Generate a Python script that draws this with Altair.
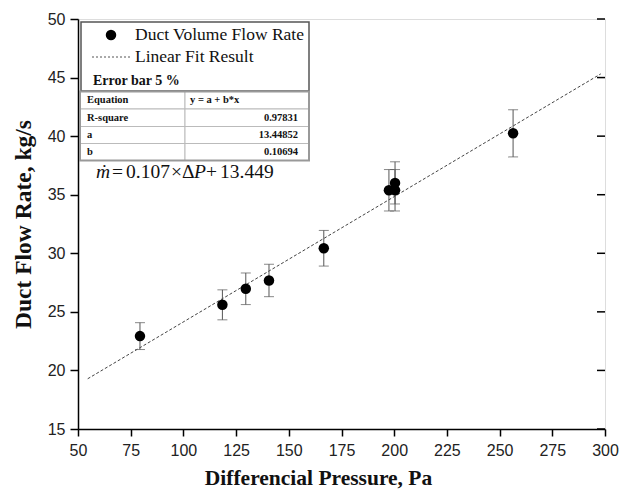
import altair as alt
import pandas as pd

# ---- data ----
pressure = [79.4, 118.5, 129.6, 140.6, 166.6, 197.5, 200.4, 200.4, 256.4]
flow = [22.93, 25.60, 26.97, 27.68, 30.43, 35.38, 36.01, 35.38, 40.24]
err_frac = 0.05  # "Error bar 5 %"

fit_a = 13.44852
fit_b = 0.10694
fit_x = [54.6, 298.0]

y_ticks = [15, 20, 25, 30, 35, 40, 45, 50]
x_ticks = [50, 75, 100, 125, 150, 175, 200, 225, 250, 275, 300]

legend_labels = ["Duct Volume Flow Rate", "Linear Fit Result"]
errbar_label = "Error bar 5 %"
table_left = ["Equation", "R-square", "a", "b"]
table_right = ["y = a + b*x", "0.97831", "13.44852", "0.10694"]

W, H = 527, 410
SERIF = "Liberation Serif"
SANS = "Liberation Sans"

df = pd.DataFrame({"x": pressure, "y": flow})
df_fit = pd.DataFrame({"x": fit_x})
one = pd.DataFrame({"a": [0]})

xs = alt.Scale(domain=[50, 300], nice=False, zero=False)
ys = alt.Scale(domain=[15, 50], nice=False, zero=False)

xax = alt.Axis(values=x_ticks, title="Differencial Pressure, Pa", grid=False,
               labelFont=SANS, labelFontSize=16, labelColor="#222", labelFlush=False,
               titleFont=SERIF, titleFontSize=21.5, titleFontWeight="bold",
               titleColor="#111", tickSize=7, tickColor="black", tickWidth=1.5,
               domainColor="black", domainWidth=1.5, labelPadding=6,
               titleX=240, titleY=55, titleBaseline="alphabetic")
yax = alt.Axis(values=y_ticks, title="Duct Flow Rate, kg/s", grid=False,
               labelFont=SANS, labelFontSize=16, labelColor="#222", labelFlush=False,
               titleFont=SERIF, titleFontSize=23.5, titleFontWeight="bold",
               titleColor="#111", tickSize=8, tickColor="black", tickWidth=1.5,
               domainColor="black", domainWidth=1.5, labelPadding=5, titlePadding=12)

base = alt.Chart(df)

fit = alt.Chart(df_fit).transform_calculate(
    y=f"{fit_a} + {fit_b} * datum.x"
).mark_line(color="#444", strokeWidth=1, strokeDash=[3, 2]).encode(
    x=alt.X("x:Q", scale=xs, axis=xax),
    y=alt.Y("y:Q", scale=ys, axis=yax),
)

errs = base.transform_calculate(
    lo=f"datum.y * (1 - {err_frac})", hi=f"datum.y * (1 + {err_frac})"
)
err_rule = errs.mark_rule(color="#555", strokeWidth=1).encode(
    x=alt.X("x:Q", scale=xs), y=alt.Y("lo:Q", scale=ys), y2="hi:Q")
cap_lo = errs.mark_tick(color="#555", orient="horizontal", size=10, thickness=1).encode(
    x=alt.X("x:Q", scale=xs), y=alt.Y("lo:Q", scale=ys))
cap_hi = errs.mark_tick(color="#555", orient="horizontal", size=10, thickness=1).encode(
    x=alt.X("x:Q", scale=xs), y=alt.Y("hi:Q", scale=ys))

pts = base.mark_circle(color="black", size=110, opacity=1).encode(
    x=alt.X("x:Q", scale=xs), y=alt.Y("y:Q", scale=ys))

# inward ticks on the right frame edge
rt = alt.Chart(pd.DataFrame({"t": y_ticks})).mark_rule(color="black", strokeWidth=1.5).encode(
    y=alt.Y("t:Q", scale=ys), x=alt.value(W - 8), x2=alt.value(W))

layers = [fit, err_rule, cap_lo, cap_hi, pts, rt]

# ---- legend box ----
layers.append(alt.Chart(one).mark_rect(fill="white", stroke="#555", strokeWidth=1.5).encode(
    x=alt.value(3), x2=alt.value(231), y=alt.value(3), y2=alt.value(72)))
layers.append(alt.Chart(one).mark_circle(color="black", size=110, opacity=1).encode(
    x=alt.value(33), y=alt.value(16)))
layers.append(alt.Chart(one).mark_rule(color="#555", strokeWidth=1, strokeDash=[2, 2]).encode(
    x=alt.value(14), x2=alt.value(53), y=alt.value(38)))
for txt, yy in zip(legend_labels, [16, 38]):
    layers.append(alt.Chart(pd.DataFrame({"t": [txt]})).mark_text(
        align="left", baseline="middle", font=SERIF, fontSize=17.5, color="#111").encode(
        x=alt.value(57), y=alt.value(yy), text="t:N"))
layers.append(alt.Chart(pd.DataFrame({"t": [errbar_label]})).mark_text(
    align="left", baseline="middle", font=SERIF, fontSize=14, fontWeight="bold", color="#111").encode(
    x=alt.value(15), y=alt.value(62), text="t:N"))

# ---- fit table ----
row_top = [72.5, 90, 107.5, 124.5]
row_bot = [90, 107.5, 124.5, 141.5]
for i, (lt, rtxt, y0, y1) in enumerate(zip(table_left, table_right, row_top, row_bot)):
    yc = (y0 + y1) / 2
    layers.append(alt.Chart(one).mark_rect(fill="white", stroke="#bbb", strokeWidth=1).encode(
        x=alt.value(2), x2=alt.value(107), y=alt.value(y0), y2=alt.value(y1)))
    layers.append(alt.Chart(one).mark_rect(fill="white", stroke="#bbb", strokeWidth=1).encode(
        x=alt.value(107), x2=alt.value(231), y=alt.value(y0), y2=alt.value(y1)))
    layers.append(alt.Chart(pd.DataFrame({"t": [lt]})).mark_text(
        align="left", baseline="middle", font=SERIF, fontSize=10.5, fontWeight="bold",
        color="#111").encode(x=alt.value(9), y=alt.value(yc), text="t:N"))
    if i == 0:
        layers.append(alt.Chart(pd.DataFrame({"t": [rtxt]})).mark_text(
            align="left", baseline="middle", font=SERIF, fontSize=10.5, fontWeight="bold",
            color="#111").encode(x=alt.value(112), y=alt.value(yc), text="t:N"))
    else:
        layers.append(alt.Chart(pd.DataFrame({"t": [rtxt]})).mark_text(
            align="right", baseline="middle", font=SERIF, fontSize=10.5, fontWeight="bold",
            color="#111").encode(x=alt.value(220), y=alt.value(yc), text="t:N"))
layers.append(alt.Chart(one).mark_rect(fill=None, stroke="#999", strokeWidth=2).encode(
    x=alt.value(2), x2=alt.value(231), y=alt.value(72.5), y2=alt.value(141.5)))

# ---- equation ----
eq_parts = ["ṁ", "=", "0.107", "×", "Δ", "P", "+", "13.449"]
eq_x = [18, 34, 48, 93, 104, 116, 128, 142]
eq_style = ["italic", "normal", "normal", "normal", "normal", "italic", "normal", "normal"]
for txt, px, st in zip(eq_parts, eq_x, eq_style):
    layers.append(alt.Chart(pd.DataFrame({"t": [txt]})).mark_text(
        align="left", baseline="alphabetic", font=SERIF, fontSize=19.5,
        fontStyle=st, color="#111").encode(x=alt.value(px), y=alt.value(159), text="t:N"))

chart = alt.layer(*layers).properties(
    width=W, height=H,
    autosize="none",
    padding={"left": 78, "top": 19, "right": 26, "bottom": 60},
).configure_view(stroke="black", strokeWidth=1.5).configure(background="white")

chart.save("out.html", embed_options={"renderer": "svg", "actions": False})
